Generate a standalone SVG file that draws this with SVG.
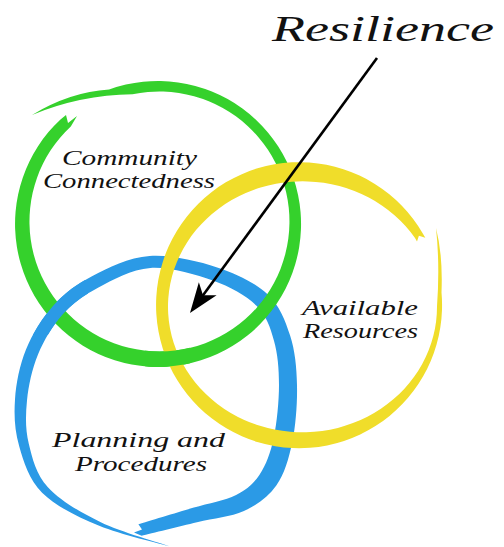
<svg xmlns="http://www.w3.org/2000/svg" xmlns:xlink="http://www.w3.org/1999/xlink" width="504" height="547" viewBox="0 0 504 547">
<style>
  .lbl{font-family:"Liberation Serif","DejaVu Serif",serif;font-style:italic;fill:#111;}
  .green{fill:#35d12c}
  .yellow{fill:#f0dd2a}
  .blue{fill:#2b9ae6}
  .conn{stroke:#000;stroke-width:2.6;fill:none}
</style>
<defs>
  <path id="greenRing" d="M32,115 Q70,92 109.1,89.6 A143,143 0 1 1 60.5,119.4 L66,115 L68,123 L77,116 L70.8,126.4 A130,130 0 1 0 132.5,94.3 Q80,95 32,115 Z"/>
  <path id="yellowRing" d="M436,228 Q443,255 441.5,292.5 A143,143 0 1 1 422.8,233.5 L425.3,237.8 L418.9,235.8 L417,241.5 L415,238 A134.5,125.5 0 1 0 437,306.5 Q440,265 436,228 Z"/>
  <path id="blueRing" d="M172,547 C159.9,543.5 120.9,534.8 99.2,525.8 S55.4,506.1 42.1,492.8 S23.7,461.9 19.2,446.3 S13.9,415.6 15,399.5 S19.6,365.1 26,349.5 S42.2,317.9 53.2,305.7 S75.9,284.5 92,276.2 S128.7,257.5 149.6,256 S197.6,261 217.2,267.4 S255.4,282.9 267.5,294.2 S285.2,320.4 290.1,335.5 S296.6,367.3 297,385 S295.8,425.2 292.3,442 S284.4,474.1 276.3,485.6 S257.1,505 243.9,511.1 S214.1,518.1 197,522.2 S150.8,533.5 141.6,535.8 L134,532.5 L142,529.5 L138.4,524.2 C147.5,521.5 176.7,512.7 193,507.8 S225,500.5 236.1,494.9 S253.4,483.9 259.7,474.4 S270.5,452.9 273.7,438 S279,401.3 279,385 S277.7,353.7 273.9,340.5 S266.7,315.8 256.5,305.8 S230.5,286.9 212.8,280.6 S169.5,266.8 150.4,268 S112.6,280.1 98,287.8 S72.8,303.2 62.8,314.3 S44,340.1 38,354.5 S28.5,385.6 27,400.5 S25.3,429.3 28.8,443.7 S35.9,474.1 47.9,487.2 S80.1,512.2 100.8,522.2 S160.1,542.9 172,547 Z"/>
  <clipPath id="clipGreenOverYellow"><rect x="145" y="335" width="45" height="40"/></clipPath>
  <clipPath id="clipBlueOverGreen"><rect x="28" y="280" width="60" height="55"/></clipPath>
  <marker id="arrowHead" markerUnits="userSpaceOnUse" orient="auto" refX="0" refY="0" markerWidth="40" markerHeight="30" overflow="visible">
    <path d="M10,0 L-20,-11 L-12,0 L-20,11 Z" fill="#000"/>
  </marker>
</defs>
<rect width="504" height="547" fill="#fff"/>

<g id="node-planning">
  <use href="#blueRing" class="blue"/>
  <text class="lbl" x="52" y="447" font-size="21" textLength="173" lengthAdjust="spacingAndGlyphs">Planning and</text>
  <text class="lbl" x="75" y="471" font-size="21" textLength="132" lengthAdjust="spacingAndGlyphs">Procedures</text>
</g>
<g id="node-community">
  <use href="#greenRing" class="green"/>
  <text class="lbl" x="62" y="165" font-size="21" textLength="135" lengthAdjust="spacingAndGlyphs">Community</text>
  <text class="lbl" x="43" y="188" font-size="21" textLength="172" lengthAdjust="spacingAndGlyphs">Connectedness</text>
</g>
<g id="node-resources">
  <use href="#yellowRing" class="yellow"/>
  <text class="lbl" x="302" y="315" font-size="21" textLength="116" lengthAdjust="spacingAndGlyphs">Available</text>
  <text class="lbl" x="303" y="338" font-size="21" textLength="115" lengthAdjust="spacingAndGlyphs">Resources</text>
</g>
<g id="weave">
  <use href="#greenRing" class="green" clip-path="url(#clipGreenOverYellow)"/>
  <use href="#blueRing" class="blue" clip-path="url(#clipBlueOverGreen)"/>
</g>
<g id="node-resilience">
  <text class="lbl" x="272" y="41" font-size="36" textLength="222" lengthAdjust="spacingAndGlyphs">Resilience</text>
</g>
<g id="connectors">
  <line class="conn" x1="377" y1="58" x2="195.9" y2="304.9" marker-end="url(#arrowHead)"/>
</g>
</svg>
